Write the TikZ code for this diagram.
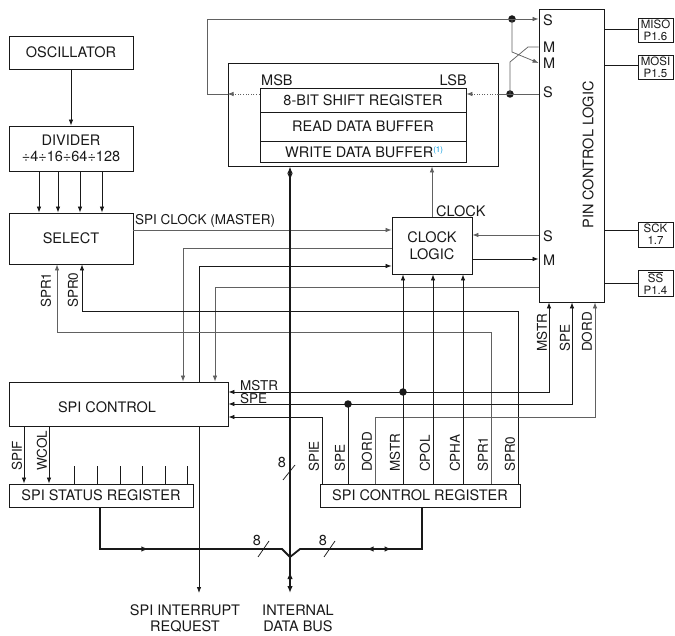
\documentclass[tikz,border=0pt]{standalone}
\usepackage{fontspec}
\setmainfont{TeX Gyre Heros}
\usetikzlibrary{arrows.meta,decorations.markings}
\definecolor{dk}{gray}{0.1}
\definecolor{lt}{gray}{0.38}
\definecolor{supc}{RGB}{0,150,220}
\tikzset{
 btip/.tip={Latex[length=7pt,width=5.5pt]},
 rtip/.tip={Latex[length=7pt,width=5.5pt,reversed]},
 box/.style={draw=dk, line width=0.8pt, inner sep=0pt, font=\fontsize{14.5}{16.5}\selectfont, align=center, text=dk},
 pad/.style={draw=dk, line width=0.8pt, inner sep=0pt, minimum width=35pt, font=\fontsize{11.5}{12}\selectfont, align=center, text=dk},
 big/.style={inner sep=0pt, font=\fontsize{14.5}{16}\selectfont, text=dk, align=center},
 lab/.style={inner sep=0pt, font=\fontsize{13.5}{15}\selectfont, text=dk},
 vlab/.style={lab, rotate=90, anchor=west},
 dkl/.style={draw=dk, line width=0.75pt},
 ltl/.style={draw=lt, line width=0.75pt},
 arr/.style={-{Latex[length=6pt,width=4.5pt]}},
 dotline/.style={dash pattern=on 1pt off 1.6pt},
 jdot/.style={circle, fill=dk, inner sep=0pt, minimum size=7.5pt},
 bus/.style={draw=dk, line width=1.8pt, line join=miter},
}
\begin{document}
\begin{tikzpicture}[x=1pt,y=-1pt]
\useasboundingbox (0,0) rectangle (675,636);

% ---------- coordinates ----------
\coordinate (hT) at (0,19);
\coordinate (hM1) at (0,47);
\coordinate (hM2) at (0,63);
\coordinate (hF) at (0,94);
\coordinate (hA) at (0,230);
\coordinate (hB) at (0,248);
\coordinate (hC) at (0,266);
\coordinate (hD) at (0,287);
\coordinate (hE) at (0,311);
\coordinate (hG) at (0,332);
\coordinate (hS) at (0,235);
\coordinate (hM) at (0,259);
\coordinate (hMS) at (0,392);
\coordinate (hSP) at (0,404);
\coordinate (hSI) at (0,417);
\coordinate (hP1) at (0,29);
\coordinate (hP2) at (0,65);
\coordinate (hP3) at (0,230);
\coordinate (hP4) at (0,283);
\coordinate (vB) at (183,0);
\coordinate (vC) at (199,0);
\coordinate (vD) at (215,0);
\coordinate (vE) at (82,0);
\coordinate (vG) at (57,0);
\coordinate (fb) at (207,0);
\coordinate (p1) at (549,0);
\coordinate (p2) at (572,0);
\coordinate (p3) at (595,0);
\coordinate (b1) at (322,0);
\coordinate (b2) at (348,0);
\coordinate (b3) at (375,0);
\coordinate (b4) at (403,0);
\coordinate (b5) at (433,0);
\coordinate (b6) at (463,0);
\coordinate (b7) at (491,0);
\coordinate (b8) at (518,0);
\coordinate (s1) at (24,0);
\coordinate (s2) at (49,0);
\coordinate (sb) at (100,0);
\coordinate (cb) at (422,0);
\coordinate (vbus) at (290,0);
\coordinate (busE) at (290,593);
\coordinate (irqe) at (199,593);
\coordinate (jl) at (282,549);
\coordinate (jr) at (300,549);
\coordinate (jn) at (290,557);
\coordinate (k1) at (512,52);
\coordinate (k2) at (528,47);
\coordinate (k3) at (510,62);

% ---------- boxes ----------
\node[box, minimum width=124pt, minimum height=33pt] (osc) at (71,52.5) {OSCILLATOR};
\node[box, minimum width=124pt, minimum height=45pt] (div) at (71,148.5) {DIVIDER\\÷4÷16÷64÷128};
\node[box, minimum width=124pt, minimum height=51pt] (sel) at (71,238.5) {SELECT};
\node[box, minimum width=270pt, minimum height=103pt] (outer) at (363,114.5) {};
\node[box, minimum width=206pt, minimum height=24pt] (sr) at (363,100) {8-BIT SHIFT REGISTER};
\node[box, minimum width=206pt, minimum height=29pt] (rdb) at (363,126.5) {READ DATA BUFFER};
\node[box, minimum width=206pt, minimum height=21pt] (wdb) at (363,151.5) {};
\node[big, anchor=west] (wdbt) at (285,152) {WRITE DATA BUFFER\raisebox{4.5pt}{\fontsize{8}{8}\selectfont\color{supc}(1)}};
\node[box, minimum width=80pt, minimum height=57pt] (clk) at (432,245.5) {CLOCK\\LOGIC};
\node[box, minimum width=65pt, minimum height=293pt] (pin) at (571.5,155.5) {};
\node[big, rotate=90] (pint) at (588,155) {PIN CONTROL LOGIC};
\node[pad, minimum height=24pt] (miso) at (655.5,30) {MISO\\P1.6};
\node[pad, minimum height=24pt] (mosi) at (655.5,67) {MOSI\\P1.5};
\node[pad, minimum height=25pt] (sck) at (655.5,234.5) {SCK\\1.7};
\node[pad, minimum height=26pt] (ss) at (655.5,283) {$\overline{\mbox{SS}}$\\P1.4};
\node[box, minimum width=219pt, minimum height=44pt] (spic) at (118.5,404) {};
\node[big] (spict) at (107,407) {SPI CONTROL};
\node[box, minimum width=184pt, minimum height=23pt] (stat) at (101,495.5) {SPI STATUS REGISTER};
\node[box, minimum width=200pt, minimum height=23pt] (creg) at (420,495.5) {SPI CONTROL REGISTER};

% ---------- pin side labels ----------
\node[big, anchor=west] (pS1) at (543,20) {S};
\node[big, anchor=west] (pM1) at (543,47) {M};
\node[big, anchor=west] (pM2) at (543,63) {M};
\node[big, anchor=west] (pS2) at (543,92) {S};
\node[big, anchor=west] (pS3) at (543,236) {S};
\node[big, anchor=west] (pM3) at (543,260) {M};

% ---------- labels ----------
\node[lab, anchor=south west] (lspiclk) at (135,228) {SPI CLOCK (MASTER)};
\node[big, anchor=west] (lclock) at (436,211) {CLOCK};
\node[big, anchor=west] (lmsb) at (261,80) {MSB};
\node[big, anchor=east] (llsb) at (467,80) {LSB};
\node[lab, anchor=west] (lmstr) at (240,386) {MSTR};
\node[lab, anchor=west] (lspe) at (240,398.5) {SPE};
\node[vlab] (lspr1a) at (46,308) {SPR1};
\node[vlab] (lspr0a) at (73,308) {SPR0};
\node[vlab] (lspif) at (17,471) {SPIF};
\node[vlab] (lwcol) at (42,471) {WCOL};
\node[vlab] (lb1) at (314,472) {SPIE};
\node[vlab] (lb2) at (340,472) {SPE};
\node[vlab] (lb3) at (367,472) {DORD};
\node[vlab] (lb4) at (395,472) {MSTR};
\node[vlab] (lb5) at (425,472) {CPOL};
\node[vlab] (lb6) at (455,472) {CPHA};
\node[vlab] (lb7) at (483,472) {SPR1};
\node[vlab] (lb8) at (510,472) {SPR0};
\node[vlab] (lpb1) at (542,352) {MSTR};
\node[vlab] (lpb2) at (565,352) {SPE};
\node[vlab] (lpb3) at (587,352) {DORD};
\node[big] (irq) at (185,618) {SPI INTERRUPT\\REQUEST};
\node[big] (idb) at (298,618.5) {INTERNAL\\DATA BUS};
\node[big] (e1) at (282,462) {8};
\node[big] (e2) at (257,540) {8};
\node[big] (e3) at (323,540) {8};

% ---------- junction dots ----------
\node[jdot] (dT) at (512,19) {};
\node[jdot] (dB) at (510,94) {};
\node[jdot] (dMS) at (403,392) {};
\node[jdot] (dSP) at (348,404) {};

% ---------- connectors ----------
\draw[dkl,arr] (osc) -- (div);
\foreach \x [count=\i] in {39,58,80,102} {
  \coordinate (dv\i) at (\x,0);
  \draw[dkl,arr] (div.south -| dv\i) -- (sel.north -| dv\i);
}
\draw[ltl,arr] (sel.east |- hA) -- (clk.west |- hA);
\draw[ltl,arr] (clk.west |- hB) -| (spic.north -| vB);
\draw[dkl,arr] (spic.north -| vC) |- (clk.west |- hC);
\draw[ltl,arr] (pin.west |- hD) -| (spic.north -| vD);
\draw[dkl,arr] (creg.north -| b8) |- (vE |- hE) -- (sel.south -| vE);
\draw[ltl,arr] (creg.north -| b7) |- (vG |- hG) -- (sel.south -| vG);
\draw[ltl,arr] (pin.west |- hS) -- (clk.east |- hS);
\draw[dkl,arr] (clk.east |- hM) -- (pin.west |- hM);
\draw[ltl,arr] (clk.north) -- (outer.south -| clk.north);

% control register bits
\draw[dkl,arr] (creg.north -| b1) |- (spic.east |- hSI);
\draw[dkl] (creg.north -| b2) -- (dSP.center);
\draw[dkl,arr] (dSP.center) -- (spic.east |- hSP);
\draw[dkl,arr] (dSP.center) -| (pin.south -| p2);
\draw[ltl,arr] (creg.north -| b3) |- (p3 |- hSI) -- (pin.south -| p3);
\draw[dkl,arr] (creg.north -| b4) -- (clk.south -| b4);
\draw[dkl,arr] (dMS.center) -- (spic.east |- hMS);
\draw[dkl,arr] (dMS.center) -| (pin.south -| p1);
\draw[dkl,arr] (creg.north -| b5) -- (clk.south -| b5);
\draw[dkl,arr] (creg.north -| b6) -- (clk.south -| b6);

% status
\draw[dkl,arr] (spic.south -| s1) -- (stat.north -| s1);
\draw[dkl,arr] (spic.south -| s2) -- (stat.north -| s2);
\foreach \x [count=\i] in {74,97,120,142,165,187} {
  \coordinate (tk\i) at (\x,466);
  \draw[dkl] (stat.north -| tk\i) -- (tk\i);
}
\draw[dkl,arr] (spic.south -| vC) -- (irqe);

% shift register loop and pin crossing
\draw[ltl,dotline,arr] (sr.west |- hF) -- (outer.west |- hF);
\draw[ltl] (outer.west |- hF) -- (fb |- hF) |- (dT.center);
\draw[ltl,arr] (dT.center) -- (pin.west |- hT);
\draw[ltl,arr] (dT.center) -- (k1) -- (pin.west |- hM2);
\draw[ltl] (pin.west |- hM1) -- (k2) -- (k3) -- (dB.center);
\draw[ltl] (pin.west |- hF) -- (outer.east |- hF);
\draw[ltl,dotline,arr] (outer.east |- hF) -- (sr.east |- hF);

% pads
\draw[dkl] (pin.east |- hP1) -- (miso.west |- hP1);
\draw[dkl] (pin.east |- hP2) -- (mosi.west |- hP2);
\draw[dkl] (pin.east |- hP3) -- (sck.west |- hP3);
\draw[dkl] (pin.east |- hP4) -- (ss.west |- hP4);

% buses
\draw[bus, btip-btip, postaction={decorate},
  decoration={markings,
    mark=at position 14pt with {\arrow{btip}},
    mark=at position -14pt with {\arrow{rtip}}}]
  (outer.south -| vbus) -- (busE);
\draw[bus, postaction={decorate},
  decoration={markings, mark=at position 90pt with {\arrow{btip}}}]
  (stat.south -| sb) |- (jl) -- (jn);
\draw[bus, postaction={decorate},
  decoration={markings,
    mark=at position 79pt with {\arrow{rtip}},
    mark=at position 97pt with {\arrow{btip}}}]
  (creg.south -| cb) |- (jr) -- (jn);

% bus width slashes
\draw[dkl] (283,480) -- (295,465);
\draw[dkl] (258,557) -- (269,541);
\draw[dkl] (324,557) -- (335,541);
\end{tikzpicture}
\end{document}
